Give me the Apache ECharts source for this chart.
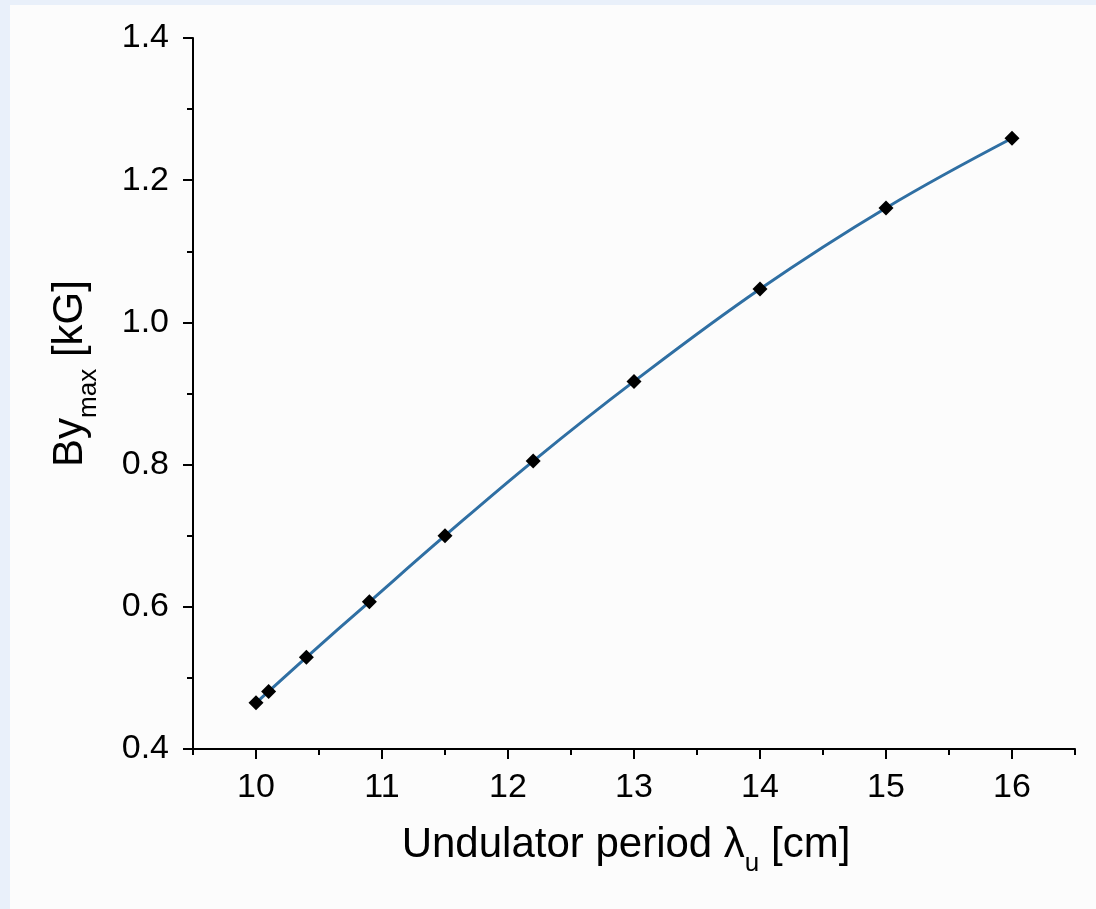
<!DOCTYPE html>
<html>
<head>
<meta charset="utf-8">
<script src="https://cdn.jsdelivr.net/npm/echarts@6/dist/echarts.min.js"></script>
<style>
html,body{margin:0;padding:0;background:#e9f0fa;}
#c{position:absolute;left:10px;top:5px;width:1086px;height:904px;background:#fcfcfc;}
</style>
</head>
<body>
<div id="c"></div>
<script>
const xValues = [10, 10.1, 10.4, 10.9, 11.5, 12.2, 13, 14, 15, 16];
const yValues = [0.465, 0.481, 0.529, 0.607, 0.700, 0.805, 0.917, 1.047, 1.161, 1.259];
const xMajorTicks = [10, 11, 12, 13, 14, 15, 16];
const xMinorTicks = [9.5, 10.5, 11.5, 12.5, 13.5, 14.5, 15.5, 16.5];

const chart = echarts.init(document.getElementById('c'));
const FONT = 'Liberation Sans, Arial, sans-serif';
const richTitle = {
  b: {fontSize: 42, fontFamily: FONT, color: '#000', lineHeight: 64, verticalAlign: 'middle'},
  s: {fontSize: 26, fontFamily: FONT, color: '#000', lineHeight: 64, verticalAlign: 'bottom'}
};
chart.setOption({
  animation: false,
  grid: {left: 183, right: 21, top: 33, bottom: 160},
  xAxis: [{
    type: 'value', min: 9.5, max: 16.5,
    axisLine: {show: true, lineStyle: {color: '#000', width: 2}},
    axisTick: {show: true, length: 10, inside: false, customValues: xMajorTicks, lineStyle: {color: '#000', width: 2}},
    axisLabel: {customValues: xMajorTicks, fontSize: 34, fontFamily: FONT, color: '#000', margin: 22},
    splitLine: {show: false},
    name: '{b|Undulator period λ}{s|u}{b| [cm]}',
    nameLocation: 'middle', nameGap: 64,
    nameTextStyle: {rich: richTitle, padding: [0, 16, 0, 0]}
  }, {
    type: 'value', min: 9.5, max: 16.5, position: 'bottom',
    axisLine: {show: false},
    axisTick: {show: true, length: 6, customValues: xMinorTicks, lineStyle: {color: '#000', width: 2}},
    axisLabel: {show: false},
    splitLine: {show: false}
  }],
  yAxis: {
    type: 'value', min: 0.4, max: 1.4, interval: 0.2,
    axisLine: {show: true, lineStyle: {color: '#000', width: 2}},
    axisTick: {show: true, length: 10, lineStyle: {color: '#000', width: 2}},
    minorTick: {show: true, splitNumber: 2, length: 6, lineStyle: {color: '#000', width: 2}},
    axisLabel: {fontSize: 34, fontFamily: FONT, color: '#000', margin: 24, formatter: v => v.toFixed(1)},
    splitLine: {show: false},
    name: '{b|By}{s|max}{b| [kG]}',
    nameLocation: 'middle', nameGap: 91,
    nameTextStyle: {rich: richTitle, padding: [0, 0, 0, 40]}
  },
  series: [{
    type: 'line',
    data: xValues.map((x, i) => [x, yValues[i]]),
    smooth: 0.4,
    symbol: 'diamond', symbolSize: 15,
    itemStyle: {color: '#000'},
    lineStyle: {color: '#2f6fa3', width: 3}
  }]
});
</script>
</body>
</html>
